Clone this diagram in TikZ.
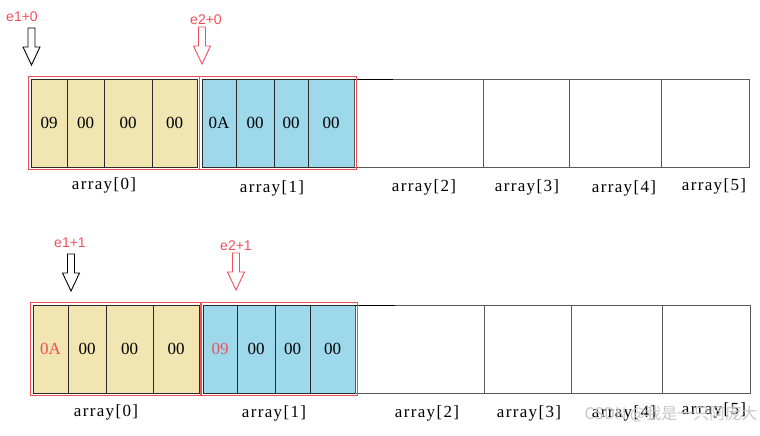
\documentclass[tikz,border=0pt]{standalone}
\usepackage{fontspec}
\setmainfont{Liberation Serif}
\newfontfamily\arrfont[LetterSpace=8]{Liberation Serif}
\newfontfamily\ptrfont{Liberation Sans}
\newfontfamily\cjk{Noto Sans CJK SC}
\usepackage{xcolor}
\usepackage{tikz}
\usetikzlibrary{positioning,fit}
\definecolor{tanfill}{HTML}{F1E5B2}
\definecolor{bluefill}{HTML}{9DD9EB}
\definecolor{redline}{HTML}{F0505A}
\definecolor{cellline}{HTML}{2A2A2A}
\tikzset{
    every node/.style={font=\fontsize{17}{20}\selectfont},
    cell/.style={draw=cellline, rectangle, inner sep=0pt, outer sep=0pt, minimum height=88pt, line width=0.9pt},
    tancell/.style={cell, fill=tanfill},
    bluecell/.style={cell, fill=bluefill},
    emptycell/.style={cell, draw=black!65},
    redframe/.style={draw=redline, rectangle, inner sep=2.5pt, line width=0.9pt},
    idx/.style={font=\arrfont\fontsize{17}{20}\selectfont},
    ptrlabel/.style={text=redline, font=\ptrfont\fontsize{14}{16}\selectfont},
    pics/ptr/.style={code={
        \draw[line width=0.9pt, draw=#1, fill=white] (-3.5,-37) -- (-3.5,-18) -- (-8.5,-18) -- (0,0)
            -- (8.5,-18) -- (3.5,-18) -- (3.5,-37) -- cycle;
    }}
}

\begin{document}
\begin{tikzpicture}[x=1pt, y=-1pt]
        \useasboundingbox (0,0) rectangle (760,436);

        % before the swap
        \node[tancell, minimum width=36pt, anchor=north west] (a00) at (31,79) {09};
        \node[tancell, minimum width=37pt, right=0pt of a00] (a01) {00};
        \node[tancell, minimum width=48pt, right=0pt of a01] (a02) {00};
        \node[tancell, minimum width=45pt, right=0pt of a02] (a03) {00};
        \node[bluecell, minimum width=34pt, right=5pt of a03] (a10) {0A};
        \node[bluecell, minimum width=38pt, right=0pt of a10] (a11) {00};
        \node[bluecell, minimum width=34pt, right=0pt of a11] (a12) {00};
        \node[bluecell, minimum width=46pt, right=0pt of a12] (a13) {00};
        \node[emptycell, minimum width=129pt, right=0pt of a13] (a2) {};
        \node[emptycell, minimum width=86pt, right=0pt of a2] (a3) {};
        \node[emptycell, minimum width=92pt, right=0pt of a3] (a4) {};
        \node[emptycell, minimum width=88pt, right=0pt of a4] (a5) {};
        \draw[line width=1pt] (a13.north east) -- ++(39,0);

        \node[redframe, fit=(a00)(a03)] (fa0) {};
        \node[redframe, fit=(a10)(a13)] (fa1) {};

        \node[idx] (la0) at (104,185) {array[0]};
        \node[idx] (la1) at (272,188) {array[1]};
        \node[idx] (la2) at (424,187) {array[2]};
        \node[idx] (la3) at (527,187) {array[3]};
        \node[idx] (la4) at (624,188) {array[4]};
        \node[idx] (la5) at (714,186) {array[5]};

        \coordinate (pa1) at (31.5,65);
        \coordinate (pa2) at (202,64);
        \pic at (pa1) {ptr=black};
        \pic at (pa2) {ptr=redline};
        \node[ptrlabel] (ea1) at (22,17) {e1+0};
        \node[ptrlabel] (ea2) at (206,20) {e2+0};

        % after the swap
        \node[tancell, minimum width=35pt, anchor=north west] (b00) at (33,305) {\textcolor{redline}{0A}};
        \node[tancell, minimum width=38pt, right=0pt of b00] (b01) {00};
        \node[tancell, minimum width=47pt, right=0pt of b01] (b02) {00};
        \node[tancell, minimum width=46pt, right=0pt of b02] (b03) {00};
        \node[bluecell, minimum width=34pt, right=4pt of b03] (b10) {\textcolor{redline}{09}};
        \node[bluecell, minimum width=38pt, right=0pt of b10] (b11) {00};
        \node[bluecell, minimum width=35pt, right=0pt of b11] (b12) {00};
        \node[bluecell, minimum width=45pt, right=0pt of b12] (b13) {00};
        \node[emptycell, minimum width=129pt, right=0pt of b13] (b2) {};
        \node[emptycell, minimum width=87pt, right=0pt of b2] (b3) {};
        \node[emptycell, minimum width=91pt, right=0pt of b3] (b4) {};
        \node[emptycell, minimum width=88pt, right=0pt of b4] (b5) {};
        \draw[line width=1pt] (b13.north east) -- ++(40,0);

        \node[redframe, fit=(b00)(b03)] (fb0) {};
        \node[redframe, fit=(b10)(b13)] (fb1) {};

        \node[idx] (lb0) at (106,412) {array[0]};
        \node[idx] (lb1) at (274,413) {array[1]};
        \node[idx] (lb2) at (427,413) {array[2]};
        \node[idx] (lb3) at (529,413) {array[3]};
        \node[idx] (lb4) at (624,413) {array[4]};
        \node[idx] (lb5) at (714,410) {array[5]};

        \coordinate (pb1) at (71,291);
        \coordinate (pb2) at (236,290);
        \pic at (pb1) {ptr=black};
        \pic at (pb2) {ptr=redline};
        \node[ptrlabel] (eb1) at (70,243) {e1+1};
        \node[ptrlabel] (eb2) at (236,246) {e2+1};

        \node[text=gray!45, font=\cjk\fontsize{16}{18}\selectfont] (mark) at (671,414) {CSDN @我是一只阿庞大};
    \end{tikzpicture}
\end{document}
